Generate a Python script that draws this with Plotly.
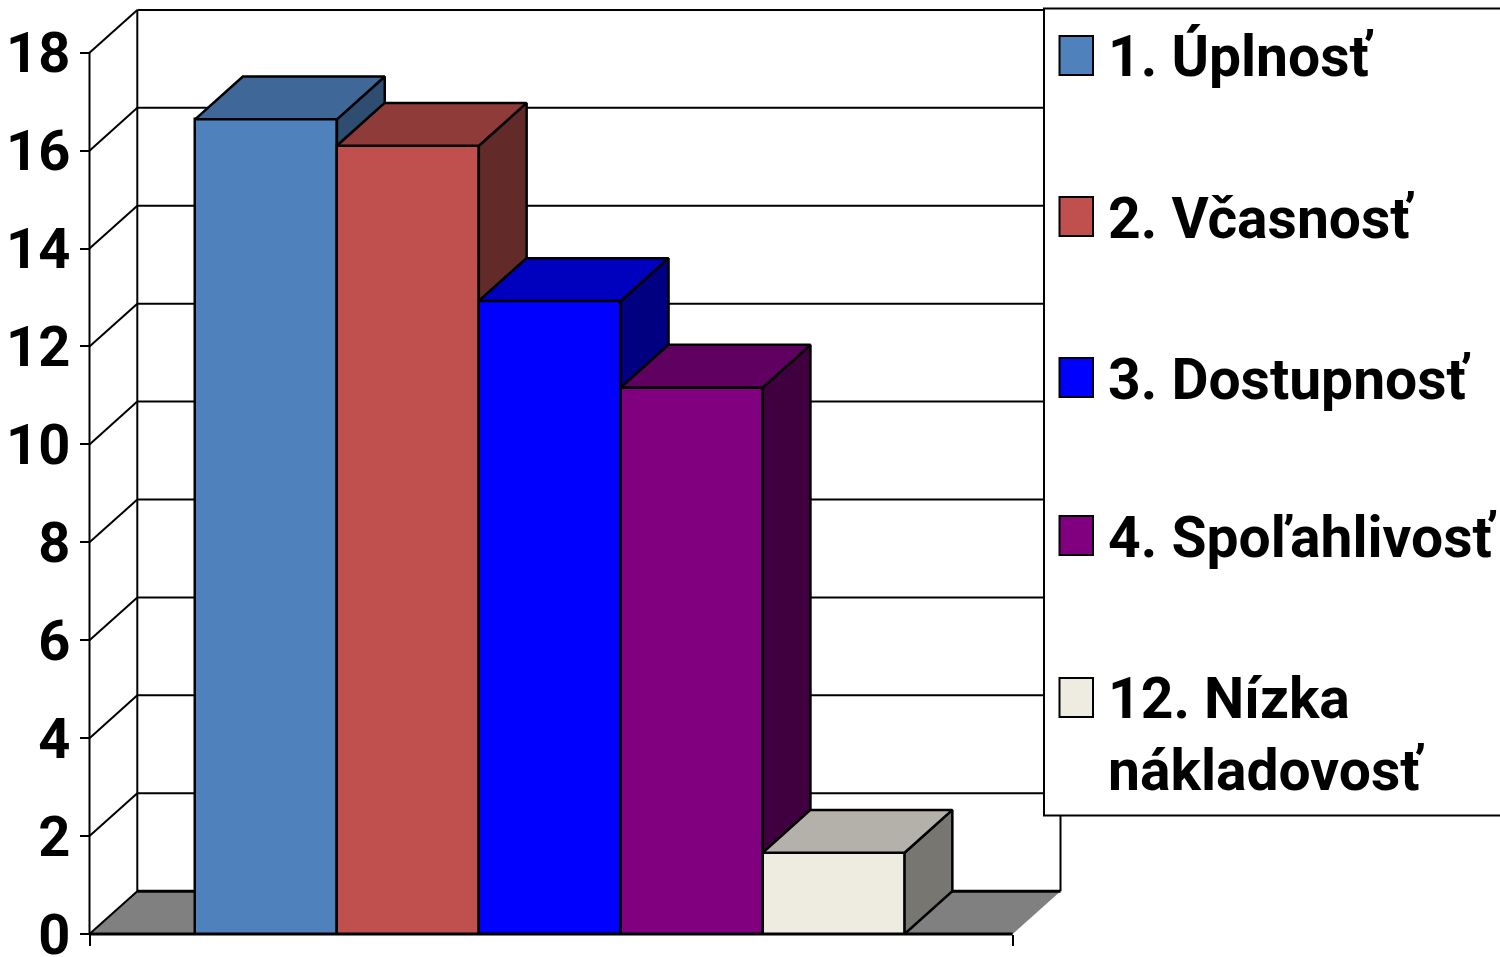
import plotly.graph_objects as go

# ---- data ----
series_names = ["1. Úplnosť", "2. Včasnosť", "3. Dostupnosť", "4. Spoľahlivosť", "12. Nízka\nnákladovosť"]
series_values = [16.64, 16.1, 12.93, 11.16, 1.66]
front_colors = ["#4F81BD", "#C0504D", "#0000FF", "#800080", "#EEECE1"]
top_colors = ["#3F6797", "#8E3B39", "#0000BF", "#600060", "#B3B1A9"]
side_colors = ["#2F4D71", "#622B29", "#000080", "#400040", "#777671"]
y_ticks = [0, 2, 4, 6, 8, 10, 12, 14, 16, 18]
FLOOR_COLOR = "#808080"

# ---- layout constants (pixels of the 1500x957 page) ----
W, H = 1500, 957
PX_UNIT_X, PX_UNIT_Y = 141.9, 48.96
PX_X1, PX_Y0 = 266.0, 934.0
DEPTH_PX_X, DEPTH_PX_Y = 47.8, 42.8
FONT = "Roboto, Liberation Sans, Arial, sans-serif"
FONT_SIZE = 57
TICK_FONT_SIZE = 56

DX, DY = DEPTH_PX_X / PX_UNIT_X, DEPTH_PX_Y / PX_UNIT_Y
x_range = [1 - PX_X1 / PX_UNIT_X, 1 + (W - PX_X1) / PX_UNIT_X]
y_range = [-(H - PX_Y0) / PX_UNIT_Y, PX_Y0 / PX_UNIT_Y]
x_left = 1 + (89.5 - PX_X1) / PX_UNIT_X
x_right = 1 + (1012.7 - PX_X1) / PX_UNIT_X
y_max = max(y_ticks)


def px(xp):
    return xp / W


def py(yp):
    return 1 - yp / H


def poly(points):
    return "M " + " L ".join(f"{x},{y}" for x, y in points) + " Z"


fig = go.Figure()
shapes = []
LINE = dict(color="black", width=2)
BAR_LINE = dict(color="black", width=2.5)

# floor
shapes.append(dict(type="path", xref="x", yref="y", layer="below",
                   path=poly([(x_left, 0), (x_left + DX, DY), (x_right + DX, DY), (x_right, 0)]),
                   fillcolor=FLOOR_COLOR, line=dict(width=0)))
# back-wall gridlines and left-wall diagonals
for t in y_ticks:
    width = 3 if t == 0 else 2
    shapes.append(dict(type="line", xref="x", yref="y", layer="below",
                       x0=x_left + DX, x1=x_right + DX, y0=t + DY, y1=t + DY,
                       line=dict(color="black", width=width)))
    shapes.append(dict(type="line", xref="x", yref="y", layer="below",
                       x0=x_left, x1=x_left + DX, y0=t, y1=t + DY, line=LINE))
# wall verticals and the axis lines
for xv, y0v, y1v in [(x_left, 0, y_max), (x_left + DX, DY, y_max + DY), (x_right + DX, DY, y_max + DY)]:
    shapes.append(dict(type="line", xref="x", yref="y", layer="below",
                       x0=xv, x1=xv, y0=y0v, y1=y1v, line=LINE))
shapes.append(dict(type="line", xref="x", yref="y", layer="below",
                   x0=x_left, x1=x_right, y0=0, y1=0, line=dict(color="black", width=3)))

# bars and their depth faces
for i, (name, v) in enumerate(zip(series_names, series_values)):
    xc = i + 1
    fig.add_trace(go.Bar(x=[xc], y=[v], width=1, name=name.replace("\n", " "),
                         marker=dict(color=front_colors[i], line=BAR_LINE), showlegend=False))
for i, (name, v) in enumerate(zip(series_names, series_values)):
    xc = i + 1
    xl, xr = xc - 0.5, xc + 0.5
    next_v = series_values[i + 1] if i + 1 < len(series_values) else 0
    fig.add_trace(go.Scatter(x=[xr, xr + DX, xr + DX, xr, xr], y=[next_v, next_v + DY, v + DY, v, next_v],
                             mode="lines", fill="toself", fillcolor=side_colors[i],
                             line=BAR_LINE, showlegend=False, hoverinfo="skip"))
    fig.add_trace(go.Scatter(x=[xl, xl + DX, xr + DX, xr, xl], y=[v, v + DY, v + DY, v, v],
                             mode="lines", fill="toself", fillcolor=top_colors[i],
                             line=BAR_LINE, showlegend=False, hoverinfo="skip"))

# legend panel (drawn by hand: the swatch size and spacing are not available in a plotly legend)
shapes.append(dict(type="rect", xref="paper", yref="paper", layer="above",
                   x0=px(1044), x1=px(1503), y0=py(8.5), y1=py(815.5),
                   fillcolor="white", line=LINE))
swatch_tops = [36, 197, 358, 516, 678]
text_tops = [21, 183, 344, 502, 663]
annotations = []
for i, name in enumerate(series_names):
    shapes.append(dict(type="rect", xref="paper", yref="paper", layer="above",
                       x0=px(1059.5), x1=px(1093), y0=py(swatch_tops[i]), y1=py(swatch_tops[i] + 39),
                       fillcolor=front_colors[i], line=LINE))
    for j, line_text in enumerate(name.split("\n")):
        annotations.append(dict(xref="paper", yref="paper", x=px(1106), y=py(text_tops[i] + 72 * j),
                                xanchor="left", yanchor="top", showarrow=False, text=line_text,
                                font=dict(family=FONT, size=FONT_SIZE, color="black", weight=700)))

fig.update_layout(
    width=W, height=H, margin=dict(l=0, r=0, t=0, b=0), autosize=False,
    paper_bgcolor="white", plot_bgcolor="white", barmode="overlay", bargap=0,
    shapes=shapes, annotations=annotations,
    xaxis=dict(domain=[0, 1], range=x_range, anchor="free", position=py(PX_Y0), showgrid=False,
               zeroline=False, showline=False, tickmode="array", tickvals=[x_left, x_right],
               ticks="outside", ticklen=11, tickwidth=2, tickcolor="black", showticklabels=False,
               automargin=False),
    yaxis=dict(domain=[0, 1], range=y_range, anchor="free", position=px(89.5), showgrid=False,
               zeroline=False, showline=False, tickmode="array", tickvals=y_ticks,
               ticks="outside", ticklen=10, tickwidth=2, tickcolor="black", ticklabeloverflow="allow",
               ticklabelstandoff=-2,
               tickfont=dict(family=FONT, size=TICK_FONT_SIZE, color="black", weight=700), automargin=False),
)

fig.write_html("out.html", config=dict(displayModeBar=False),
               post_script="document.body.style.margin='0';document.body.style.overflow='hidden';")
